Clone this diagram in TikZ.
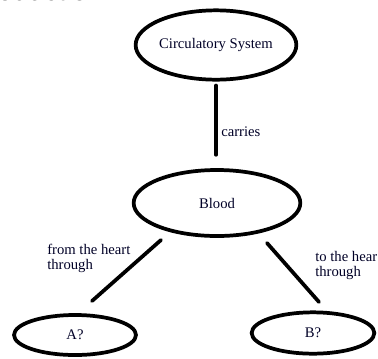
\documentclass[tikz,border=0pt]{standalone}
\usepackage{fontspec}
\setmainfont{Liberation Serif}
\newfontfamily\headfont{Liberation Sans}
\usetikzlibrary{shapes.geometric}
\begin{document}
\begin{tikzpicture}[x=0.75pt,y=-0.75pt,
  oval/.style={draw=black,line width=2.8pt,ellipse,inner sep=0pt,
    font=\fontsize{11pt}{12pt}\selectfont,text=black!85!blue},
  link/.style={draw=black,line width=2.8pt,line cap=round},
  lbl/.style={font=\fontsize{11pt}{11.5pt}\selectfont,text=black!85!blue,align=left,inner sep=0pt},
  ]
\useasboundingbox (0,0) rectangle (378,358);
\clip (0,0) rectangle (378,358);
\node[anchor=base west,inner sep=0pt,font=\headfont\fontsize{21pt}{21pt}\selectfont] (head) at (-3,0) {oduction.};
% ellipses
\node[oval,minimum width=114pt,minimum height=52pt] (cs) at (216,45) {\raisebox{3pt}{Circulatory System}};
\node[oval,minimum width=125pt,minimum height=49.5pt] (blood) at (217,203) {Blood};
\node[oval,minimum width=91.5pt,minimum height=30pt] (a) at (75,335) {A?};
\node[oval,minimum width=92pt,minimum height=31pt] (b) at (313,333) {B?};
% connector end points
\coordinate (la) at (161,240);
\coordinate (lb) at (92,301);
\coordinate (ra) at (267,243);
\coordinate (rb) at (319,302);
\draw[link,shorten <=3pt,shorten >=10pt] (cs.south) -- (cs.south |- blood.north);
\draw[link] (la) -- (lb);
\draw[link] (ra) -- (rb);
% labels
\node[lbl,anchor=west] (carries) at (221,132) {carries};
\node[lbl,anchor=north west] (from) at (47,244) {from the heart\\through};
\node[lbl,anchor=north west] (to) at (315,251) {to the hear\\through};
\end{tikzpicture}
\end{document}
